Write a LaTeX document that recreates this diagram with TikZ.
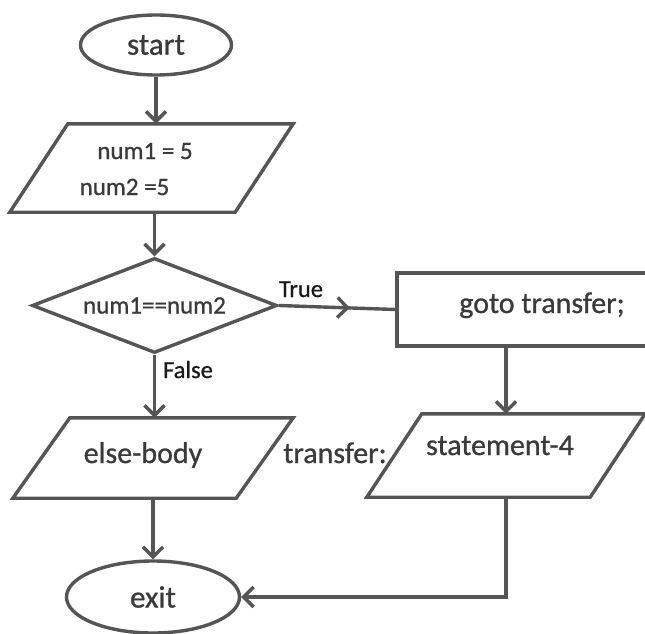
\documentclass[tikz,border=0pt]{standalone}
\usepackage{fontspec}
\setmainfont[FakeBold=0.8]{Carlito}
\usetikzlibrary{shapes.geometric,arrows.meta,decorations.markings}
\definecolor{ln}{HTML}{555555}
\definecolor{tx}{HTML}{3A3A3A}
\definecolor{lb}{HTML}{1A1A1A}
\begin{document}
\begin{tikzpicture}[x=1pt,y=-1pt,
  line/.style={draw=ln,color=ln,line width=3.4pt,line join=miter},
  arr/.style={line,-{Straight Barb[length=10pt,width=20pt]}},
  term/.style={ellipse,draw=ln,line width=3.4pt,inner sep=0pt,text=tx,font=\fontsize{31}{36}\selectfont},
  dec/.style={diamond,shape aspect=2.58,draw=ln,line width=3.4pt,inner sep=0pt,text=tx,font=\fontsize{25}{30}\selectfont},
  proc/.style={rectangle,draw=ln,line width=3.4pt,inner sep=0pt},
  para/.style={rectangle,inner sep=0pt},
  txt/.style={text=tx,inner sep=0pt,anchor=base,font=\fontsize{30}{36}\selectfont},
  small/.style={text=tx,inner sep=0pt,anchor=base,font=\fontsize{25}{30}\selectfont},
  lbl/.style={text=lb,inner sep=0pt,anchor=base,font=\fontsize{24.5}{29}\selectfont}]
\useasboundingbox (0,0) rectangle (645,634);
\clip (0,0) rectangle (645,634);
\fill[white] (0,0) rectangle (645,634);

% start
\node[term,minimum width=151pt,minimum height=60pt] (start) at (156,45) {start};

% input parallelogram
\node[para,minimum width=283pt,minimum height=88pt] (p1) at (151.5,168) {};
\draw[line] ([xshift=58pt]p1.north west) -- (p1.north east) -- ([xshift=-58pt]p1.south east) -- (p1.south west) -- cycle;
\node[small] (n1) at (145,159) {num1 = 5};
\node[small] (n2) at (124.5,195) {num2 =5};

% decision
\node[dec,minimum width=245pt,minimum height=95pt] (d) at (154.5,305.5) {num1==num2};

% goto box
\node[proc,minimum width=290pt,minimum height=73pt] (g) at (542,309.5) {};
\node[txt] (gt) at (542,313) {goto transfer;};

% else-body
\node[para,minimum width=280pt,minimum height=80pt] (eb) at (153,458) {};
\draw[line] ([xshift=57pt]eb.north west) -- (eb.north east) -- ([xshift=-57pt]eb.south east) -- (eb.south west) -- cycle;
\node[txt] (ebt) at (143,463) {else-body};

% statement-4
\node[para,minimum width=278pt,minimum height=83pt] (s4) at (506,455.5) {};
\draw[line] ([xshift=55pt]s4.north west) -- (s4.north east) -- ([xshift=-55pt]s4.south east) -- (s4.south west) -- cycle;
\node[txt] (s4t) at (500,455) {statement-4};
\node[txt] (tl) at (335,463) {transfer:};

% exit
\node[term,minimum width=173pt,minimum height=72pt] (exit) at (153,597) {exit};

% connectors
\draw[arr] (start.south) -- (start.south |- p1.north);
\draw[arr] (d.north |- p1.south) -- (d.north);
\draw[arr] (d.south) -- (d.south |- eb.north);
\draw[line,postaction={decorate},decoration={markings,mark=at position 0.61 with {\arrow{Straight Barb[length=10pt,width=20pt]}}}] (d.east) -- (g.west);
\draw[arr] (s4.north |- g.south) -- (s4.north);
\draw[arr] (eb.south) -- (eb.south |- exit.north);
\draw[arr] (s4.south) |- (exit.east);

% labels
\node[lbl] (tr) at (301,297) {True};
\node[lbl] (fa) at (188,378) {False};
\end{tikzpicture}
\end{document}
